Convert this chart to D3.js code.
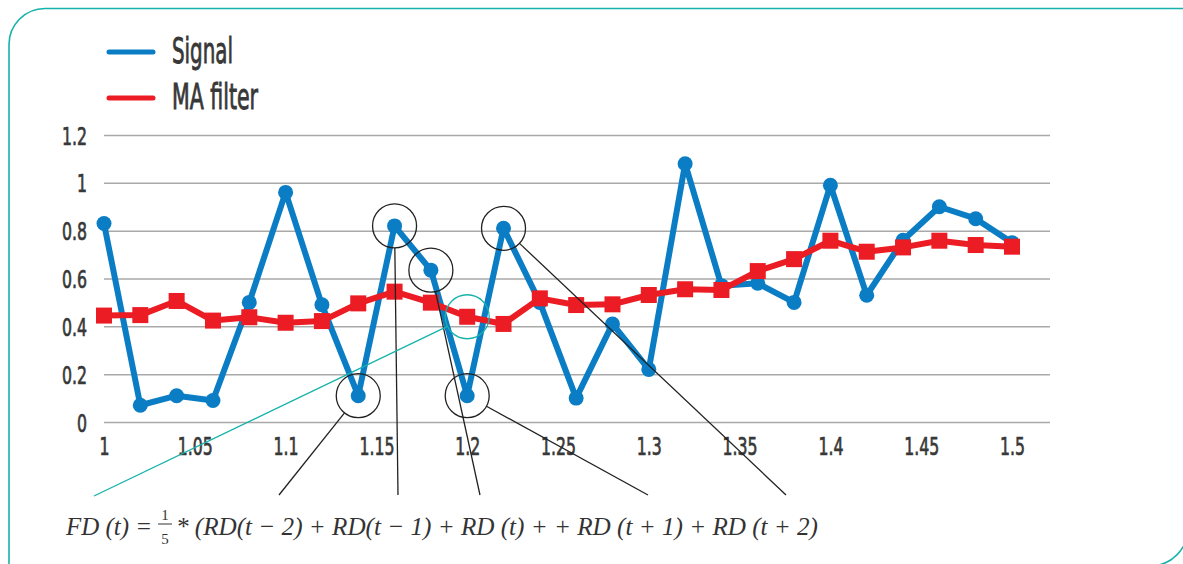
<!DOCTYPE html>
<html>
<head>
<meta charset="utf-8">
<script src="https://cdn.jsdelivr.net/npm/d3@7"></script>
<style>
  html, body { margin: 0; padding: 0; background: #fff; }
  svg { display: block; }
</style>
</head>
<body>
<svg id="chart" width="1183" height="564"></svg>
<script>
// ---- data ----
const xValues = [1.00,1.02,1.04,1.06,1.08,1.10,1.12,1.14,1.16,1.18,1.20,1.22,1.24,1.26,1.28,1.30,1.32,1.34,1.36,1.38,1.40,1.42,1.44,1.46,1.48,1.50];
const signal  = [0.83,0.07,0.11,0.09,0.50,0.96,0.49,0.11,0.82,0.635,0.11,0.81,0.50,0.10,0.41,0.22,1.08,0.57,0.58,0.50,0.99,0.53,0.76,0.90,0.85,0.75];
const maFilter = [0.445,0.447,0.506,0.424,0.438,0.415,0.422,0.496,0.545,0.499,0.44,0.41,0.517,0.489,0.492,0.531,0.555,0.552,0.631,0.681,0.758,0.712,0.730,0.758,0.740,0.733];
const xTicks = [1,1.05,1.1,1.15,1.2,1.25,1.3,1.35,1.4,1.45,1.5];
const xTickLabels = ["1","1.05","1.1","1.15","1.2","1.25","1.3","1.35","1.4","1.45","1.5"];
const yTicks = [0,0.2,0.4,0.6,0.8,1,1.2];
const yTickLabels = ["0","0.2","0.4","0.6","0.8","1","1.2"];
const seriesNames = ["Signal","MA filter"];
// annotated signal points (indices) and the formula terms they point to
const annotatedIdx = [7,8,9,10,11];
const annotatedMaIdx = 10;

// ---- layout / style ----
const BLUE = "#0a7dc4", RED = "#ec1c24", TEAL = "#16b2ab", TXT = "#383838";
const condensed = "'Liberation Sans Narrow','DejaVu Sans Condensed','Liberation Sans',sans-serif";
const svg = d3.select("#chart");

const x = d3.scaleLinear().domain([1, 1.5]).range([104, 1012]);
const y = d3.scaleLinear().domain([0, 1.2]).range([422, 135]);
const gridRight = 1050;

// frame
svg.append("path")
  .attr("d", "M9,570 L9,45 A36,36 0 0 1 45,8.5 L1190,8.5")
  .attr("fill", "none").attr("stroke", TEAL).attr("stroke-width", 1.6);
svg.append("path")
  .attr("d", "M1188,470 L1188,528 A38,38 0 0 1 1150,566")
  .attr("fill", "none").attr("stroke", TEAL).attr("stroke-width", 1.6);

const medium = sel => sel.attr("fill", TXT).attr("stroke", TXT).attr("stroke-width", 0.7)
  .style("font-family", condensed).style("font-weight", "normal");

// y axis with gridlines
const yAxis = d3.axisLeft(y).tickValues(yTicks)
  .tickFormat((d, i) => yTickLabels[i])
  .tickSize(-(gridRight - x.range()[0])).tickPadding(0);
const gy = svg.append("g").attr("transform", `translate(${x.range()[0]},0)`).call(yAxis);
gy.select(".domain").remove();
gy.selectAll(".tick line").attr("stroke", "#a9a9a9").attr("stroke-width", 1.5);
gy.selectAll(".tick text")
  .attr("x", 0).attr("dy", "0.36em")
  .attr("transform", "translate(-17,0) scale(0.7,1)")
  .call(medium).style("font-size", "25px");

// x axis labels
const xAxis = d3.axisBottom(x).tickValues(xTicks)
  .tickFormat((d, i) => xTickLabels[i]).tickSize(0).tickPadding(0);
const gx = svg.append("g").attr("transform", `translate(0,${y(0)})`).call(xAxis);
gx.select(".domain").remove();
gx.selectAll(".tick text")
  .attr("y", 0).attr("dy", 0)
  .attr("transform", "translate(0,33) scale(0.7,1)")
  .call(medium).style("font-size", "25px");

// signal series
const pts = xValues.map((v, i) => ({ x: v, s: signal[i], m: maFilter[i] }));
svg.append("path").datum(pts)
  .attr("d", d3.line().x(d => x(d.x)).y(d => y(d.s)))
  .attr("fill", "none").attr("stroke", BLUE).attr("stroke-width", 6).attr("stroke-linejoin", "round");
svg.append("g").selectAll("circle").data(pts).join("circle")
  .attr("cx", d => x(d.x)).attr("cy", d => y(d.s)).attr("r", 7.5).attr("fill", BLUE);

// MA filter series
svg.append("path").datum(pts)
  .attr("d", d3.line().x(d => x(d.x)).y(d => y(d.m)))
  .attr("fill", "none").attr("stroke", RED).attr("stroke-width", 6).attr("stroke-linejoin", "round");
const sq = 16;
svg.append("g").selectAll("rect").data(pts).join("rect")
  .attr("x", d => x(d.x) - sq / 2).attr("y", d => y(d.m) - sq / 2)
  .attr("width", sq).attr("height", sq).attr("fill", RED);

// legend
const legend = svg.append("g");
const legendRows = [{ name: seriesNames[0], color: BLUE, y: 52, len: 61 }, { name: seriesNames[1], color: RED, y: 98, len: 86 }];
legendRows.forEach(r => {
  legend.append("line").attr("x1", 109).attr("x2", 153).attr("y1", r.y).attr("y2", r.y)
    .attr("stroke", r.color).attr("stroke-width", 5).attr("stroke-linecap", "round");
  legend.append("text").attr("x", 172).attr("y", r.y + 11)
    .attr("textLength", r.len).attr("lengthAdjust", "spacingAndGlyphs")
    .call(medium).attr("stroke-width", 0.9).style("font-size", "36px")
    .text(r.name);
});

// formula
const fy = 535;
const serif = "'Liberation Serif','Times New Roman',serif";
const fstyle = sel => sel.attr("fill", "#333").style("font-family", serif)
  .style("font-style", "italic").style("font-size", "26px");
svg.append("text").attr("x", 66).attr("y", fy).attr("textLength", 86).attr("lengthAdjust", "spacingAndGlyphs")
  .call(fstyle).text("FD (t) =");
const frac = svg.append("g").attr("fill", "#333").style("font-family", serif).style("font-size", "15px");
frac.append("text").attr("x", 165).attr("y", 520).attr("text-anchor", "middle").text("1");
frac.append("text").attr("x", 165).attr("y", 544).attr("text-anchor", "middle").text("5");
frac.append("line").attr("x1", 158).attr("x2", 172).attr("y1", 524).attr("y2", 524).attr("stroke", "#333").attr("stroke-width", 1);
svg.append("text").attr("x", 176).attr("y", fy).attr("textLength", 642).attr("lengthAdjust", "spacingAndGlyphs")
  .call(fstyle).text("* (RD(t \u2212 2) + RD(t \u2212 1) + RD (t) + + RD (t + 1) + RD (t + 2)");

// annotation leaders: circle -> formula term
const leaderY = 495;
const leaderTargets = [279, 398, 480, 648, 786];
const R = 22;
const ann = svg.append("g");
annotatedIdx.forEach((idx, k) => {
  const cx = x(xValues[idx]), cy = y(signal[idx]);
  const tx = leaderTargets[k];
  const dx = tx - cx, dy = leaderY - cy, len = Math.hypot(dx, dy);
  ann.append("circle").attr("cx", cx).attr("cy", cy).attr("r", R)
    .attr("fill", "none").attr("stroke", "#222").attr("stroke-width", 1.3);
  ann.append("line").attr("x1", cx + dx / len * R).attr("y1", cy + dy / len * R)
    .attr("x2", tx).attr("y2", leaderY).attr("stroke", "#222").attr("stroke-width", 1.3);
});
{
  const cx = x(xValues[annotatedMaIdx]), cy = y(maFilter[annotatedMaIdx]);
  const tx = 94, ty = 496;
  const dx = tx - cx, dy = ty - cy, len = Math.hypot(dx, dy);
  ann.append("circle").attr("cx", cx).attr("cy", cy).attr("r", R)
    .attr("fill", "none").attr("stroke", TEAL).attr("stroke-width", 1.3);
  ann.append("line").attr("x1", cx + dx / len * R).attr("y1", cy + dy / len * R)
    .attr("x2", tx).attr("y2", ty).attr("stroke", TEAL).attr("stroke-width", 1.3);
}
</script>
</body>
</html>
